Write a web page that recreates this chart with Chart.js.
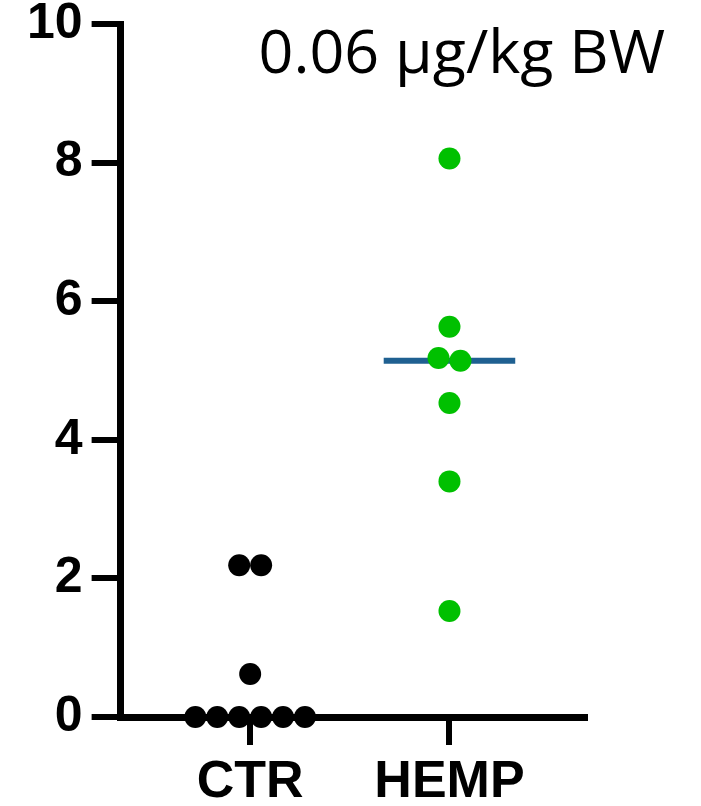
<!DOCTYPE html>
<html><head><meta charset="utf-8">
<script src="https://cdn.jsdelivr.net/npm/chart.js@4"></script>
<style>html,body{margin:0;padding:0;background:#fff}#wrap{width:701px;height:806px;position:relative}</style>
</head><body><div id="wrap"><canvas id="c"></canvas></div>
<script>
const categories = ['CTR', 'HEMP'];
const ctrValues = [0, 0, 0, 0, 0, 0, 0.62, 2.19, 2.19];
const hempValues = [8.06, 5.63, 5.18, 5.14, 4.53, 3.40, 1.53];
const yTicks = [0, 2, 4, 6, 8, 10];
const titleText = '0.06 µg/kg BW';

function median(a){ const s=[...a].sort((x,y)=>x-y); const n=s.length; return n%2?s[(n-1)/2]:(s[n/2-1]+s[n/2])/2; }
// simple beeswarm: values closer than one dot height share a row and are spread sideways
function swarm(values, center, dx, tol){
  const idx = values.map((v,i)=>i).sort((a,b)=>values[b]-values[a]);
  const out = new Array(values.length);
  let group=[idx[0]];
  const flush=()=>{ const n=group.length; group.forEach((gi,k)=>{ out[gi]={x:center+(k-(n-1)/2)*dx, y:values[gi]}; }); };
  for(let i=1;i<idx.length;i++){
    if(values[group[group.length-1]]-values[idx[i]] < tol) group.push(idx[i]);
    else { flush(); group=[idx[i]]; }
  }
  flush();
  return out;
}
const DX = 0.11, TOL = 0.3, HALF = 0.33;
const ctrPts = swarm(ctrValues, 1, DX, TOL);
const hempPts = swarm(hempValues, 2, DX, TOL);
const ctrMed = median(ctrValues), hempMed = median(hempValues);

const cornerTitle = {
  id: 'cornerTitle',
  afterDraw(chart){
    const {ctx, chartArea} = chart;
    ctx.save();
    ctx.font = '61px "Open Sans"';
    ctx.fillStyle = '#000';
    ctx.textAlign = 'right';
    ctx.textBaseline = 'alphabetic';
    ctx.fillText(titleText, chartArea.right + 80, chartArea.top + 49);
    ctx.restore();
  }
};

function draw(){
  const yFont = {family: '"Liberation Sans", Arial, sans-serif', size: 50, weight: 'bold', lineHeight: 1};
  const xFont = {family: '"Liberation Sans", Arial, sans-serif', size: 52, weight: 'bold', lineHeight: 1};
  new Chart(document.getElementById('c'), {
    type: 'scatter',
    data: {
      datasets: [
        {type:'scatter', data: ctrPts, backgroundColor:'#000', borderColor:'#000', pointRadius:11, pointHoverRadius:11, borderWidth:0, clip:false, order:1},
        {type:'scatter', data: hempPts, backgroundColor:'#00c000', borderColor:'#00c000', pointRadius:11, pointHoverRadius:11, borderWidth:0, clip:false, order:1},
        {type:'line', data:[{x:1-HALF,y:ctrMed},{x:1+HALF,y:ctrMed}], borderColor:'#000', borderWidth:6, pointRadius:0, clip:false, order:2},
        {type:'line', data:[{x:2-HALF,y:hempMed},{x:2+HALF,y:hempMed}], borderColor:'#1f6091', borderWidth:6, pointRadius:0, clip:false, order:2}
      ]
    },
    options: {
      responsive: false, animation: false, devicePixelRatio: 1,
      layout: {padding: {left: 18, right: 116, top: 24, bottom: -15}},
      plugins: {legend:{display:false}, tooltip:{enabled:false}, title:{display:false}},
      scales: {
        x: {
          type:'linear', min:0.35, max:2.68,
          afterBuildTicks: s => { s.ticks = categories.map((c,i)=>({value:i+1})); },
          ticks: {callback: v => categories[v-1], color:'#000', font: xFont, padding: 12, autoSkip:false, maxRotation:0},
          grid: {display:true, drawOnChartArea:false, drawTicks:true, tickLength:28, lineWidth:6, color:'#000'},
          border: {display:true, width:7, color:'#000'}
        },
        y: {
          min:0, max:10,
          afterBuildTicks: s => { s.ticks = yTicks.map(v=>({value:v})); },
          afterFit: s => { s.paddingTop = 0; s.paddingBottom = 0; },
          ticks: {color:'#000', font: yFont, padding: 9},
          grid: {display:true, drawOnChartArea:false, drawTicks:true, tickLength:29, lineWidth:6, color:'#000'},
          border: {display:true, width:7, color:'#000'}
        }
      }
    },
    plugins: [cornerTitle]
  });
}
const c = document.getElementById('c'); c.width = 701; c.height = 806;
Promise.all([document.fonts.load('61px "Open Sans"'), document.fonts.load('bold 50px "Liberation Sans"')]).then(draw, draw);
</script></body></html>
